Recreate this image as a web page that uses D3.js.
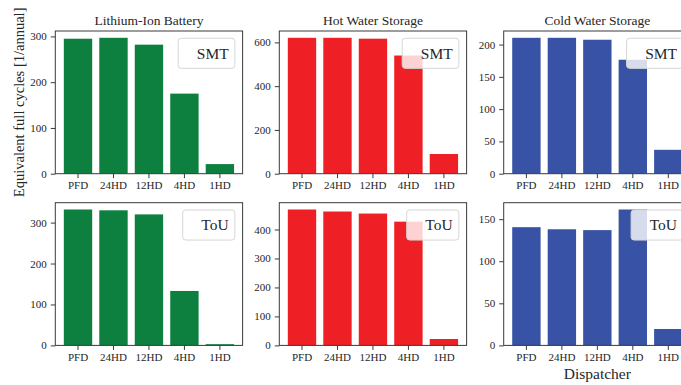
<!DOCTYPE html>
<html>
<head>
<meta charset="utf-8">
<script src="https://cdn.jsdelivr.net/npm/d3@7"></script>
<style>
  html, body { margin: 0; padding: 0; background: #fff; overflow: hidden; }
  svg { display: block; font-family: "Liberation Serif", "Times New Roman", serif; }
</style>
</head>
<body>
<svg id="chart" width="681" height="385"></svg>
<script>
// Dispatchers on the x axis
const dispatchers = ["PFD", "24HD", "12HD", "4HD", "1HD"];

// Storage technologies (columns) and tariffs (rows)
const technologies = ["Lithium-Ion Battery", "Hot Water Storage", "Cold Water Storage"];
const tariffs = ["SMT", "ToU"];
const techColors = ["#0d7f3f", "#ee1f25", "#3853a5"];

// Equivalent full cycles per year, SMT tariff
const liIonSMT = [295, 297, 282, 175, 21];
const hotWaterSMT = [621, 621, 617, 540, 90];
const coldWaterSMT = [210.5, 210.5, 207.5, 176.5, 37];

// Equivalent full cycles per year, ToU tariff
const liIonToU = [332, 330, 320, 133, 3];
const hotWaterToU = [469, 462, 455, 427, 22];
const coldWaterToU = [140.5, 138, 137, 161.5, 19.5];

const seriesGrid = [
  [liIonSMT, hotWaterSMT, coldWaterSMT],
  [liIonToU, hotWaterToU, coldWaterToU]
];

// Layout of the 2x3 grid of axes
const colLeft = [55.3, 279.3, 503.7];
const axW = 187.3;
const rowTop = [31, 202.7];
const axH = 142.7;

const tickFont = 11;
const legendFont = 15.5;
const textColor = "#262626";
const spineColor = "#3a3a3a";

const svg = d3.select("#chart");

seriesGrid.forEach((row, r) => {
  row.forEach((values, c) => {
    const g = svg.append("g")
      .attr("transform", `translate(${colLeft[c]},${rowTop[r]})`);

    const x = d3.scaleBand()
      .domain(dispatchers)
      .range([0, axW])
      .paddingInner(0.2)
      .paddingOuter(0.24);

    const y = d3.scaleLinear()
      .domain([0, d3.max(values) * 1.05])
      .range([axH, 0]);

    // Bars
    g.selectAll("rect.bar")
      .data(values)
      .join("rect")
      .attr("class", "bar")
      .attr("x", (d, i) => x(dispatchers[i]))
      .attr("width", x.bandwidth())
      .attr("y", d => y(d))
      .attr("height", d => y(0) - y(d))
      .attr("fill", techColors[c]);

    // Axes
    const yAxis = g.append("g")
      .call(d3.axisLeft(y).ticks(4).tickSize(4.5).tickPadding(4).tickSizeOuter(0));
    const xAxis = g.append("g")
      .attr("transform", `translate(0,${axH})`)
      .call(d3.axisBottom(x).tickSize(4.5).tickPadding(3.5).tickSizeOuter(0));
    [xAxis, yAxis].forEach(a => {
      a.select(".domain").remove();
      a.selectAll(".tick line").attr("stroke", spineColor).attr("stroke-width", 1);
      a.selectAll(".tick text")
        .attr("fill", textColor)
        .style("font-size", tickFont + "px")
        .style("font-family", '"Liberation Serif", "Times New Roman", serif');
    });

    // Frame
    g.append("rect")
      .attr("x", 0).attr("y", 0)
      .attr("width", axW).attr("height", axH)
      .attr("fill", "none")
      .attr("stroke", spineColor)
      .attr("stroke-width", 1);

    // Column titles on the top row
    if (r === 0) {
      g.append("text")
        .attr("x", axW / 2)
        .attr("y", -6)
        .attr("text-anchor", "middle")
        .attr("fill", textColor)
        .style("font-size", "13.5px")
        .text(technologies[c]);
    }

    // Tariff legend box in the upper right corner
    const leg = g.append("g");
    const box = leg.append("rect");
    const label = leg.append("text")
      .attr("fill", textColor)
      .style("font-size", legendFont + "px")
      .text(tariffs[r]);
    const tw = label.node().getComputedTextLength();
    const bw = tw + 1.6 * legendFont;
    const bh = 1.94 * legendFont;
    const bx = axW - 0.5 * legendFont - bw;
    const by = 0.47 * legendFont;
    box.attr("x", bx).attr("y", by)
      .attr("width", bw).attr("height", bh)
      .attr("rx", 3).attr("ry", 3)
      .attr("fill", "#fff").attr("fill-opacity", 0.8)
      .attr("stroke", "#d6d6d6").attr("stroke-width", 1);
    label.attr("x", bx + 1.2 * legendFont)
      .attr("y", by + bh / 2 + 0.34 * legendFont);
  });
});

// Shared axis labels
svg.append("text")
  .attr("transform", `translate(23.5,${rowTop[0] + axH / 2}) rotate(-90)`)
  .attr("text-anchor", "middle")
  .attr("fill", textColor)
  .style("font-size", "14.5px")
  .text("Equivalent full cycles [1/annual]");

svg.append("text")
  .attr("x", colLeft[2] + axW / 2)
  .attr("y", 379)
  .attr("text-anchor", "middle")
  .attr("fill", textColor)
  .style("font-size", "15.5px")
  .text("Dispatcher");
</script>
</body>
</html>
